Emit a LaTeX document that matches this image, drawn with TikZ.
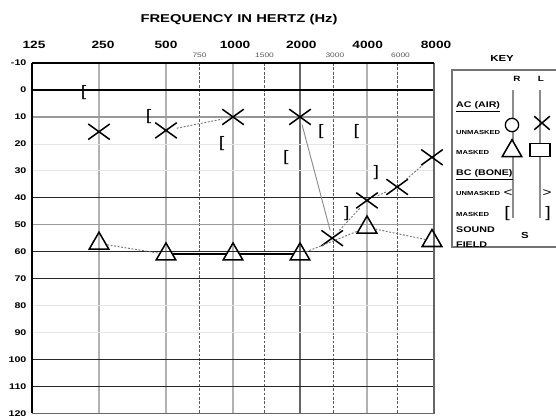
\documentclass[tikz,border=0pt]{standalone}
\usepackage{fontspec}
\setmainfont{Liberation Sans}[FakeStretch=1.3]
\usetikzlibrary{shapes.misc,shapes.geometric}

\tikzset{
  inner sep=0pt,
  freq label/.style={font=\bfseries\fontsize{9}{10}\selectfont},
  half label/.style={font=\fontsize{5.5}{6}\selectfont,text=black!65},
  db label/.style={anchor=east,font=\bfseries\fontsize{7}{8}\selectfont},
  octave line/.style={black!30,line width=1.3pt},
  half line/.style={black!65,line width=0.8pt,dash pattern=on 2.5pt off 1.2pt},
  major level/.style={black!85,line width=0.9pt},
  minor level/.style={black!40,line width=1pt},
  faint level/.style={black!10,line width=0.6pt},
  air left/.style={cross out,draw,line width=1.3pt,minimum width=0.6cm,minimum height=0.42cm},
  air right masked/.style={regular polygon,regular polygon sides=3,draw,line width=1.3pt,minimum size=0.68cm},
  bone mark/.style={font=\fontsize{13}{13}\selectfont},
  dotted trace/.style={black!55,line width=0.8pt,dash pattern=on 1.6pt off 1.4pt},
  solid trace/.style={black!45,line width=0.8pt},
  heavy trace/.style={black,line width=2pt},
  key head/.style={anchor=west,font=\bfseries\fontsize{7}{8}\selectfont},
  key text/.style={anchor=west,font=\bfseries\fontsize{5}{6}\selectfont}
}

\begin{document}
\begin{tikzpicture}[x=0.03cm,y=-0.03cm]
  \useasboundingbox (0,0) rectangle (556,415);

  %% audiogram: x in octaves above 125 Hz, y in dB HL
  \begin{scope}[shift={(32,90)},x=2.01cm,y=-0.0808cm]
    \node (title) at (3.09,-26) {\bfseries\fontsize{9.7}{11}\selectfont FREQUENCY IN HERTZ (Hz)};
    \foreach \f/\hz in {0.03/125,1.06/250,2/500,3.03/1000,4.02/2000,5.01/4000,6.03/8000}
      \node[freq label] (hz\hz) at (\f,-16.8) {\hz};
    \foreach \f/\hz in {2.5/750,3.47/1500,4.52/3000,5.5/6000}
      \node[half label] (hz\hz) at (\f,-13) {\hz};
    \foreach \l [count=\n] in {-10,0,10,...,120}
      \node[db label] (db\n) at (-0.08,\l) {\l};

    % grid
    \foreach \f in {1,2,3,5}
      \draw[octave line] (\f,-10) -- (\f,120);
    \draw[black!60,line width=1pt] (4,-10) -- (4,120);
    \foreach \f in {2.5,3.47,4.5,5.45}
      \draw[half line] (\f,-10) -- (\f,120);
    \foreach \l in {20,30,80,90}
      \draw[faint level] (0,\l) -- (6,\l);
    \foreach \l in {10,50}
      \draw[minor level] (0,\l) -- (6,\l);
    \foreach \l in {40,60,100,110}
      \draw[major level] (0,\l) -- (6,\l);
    \draw[black!85,line width=1.2pt] (0,70) -- (6,70);
    \draw[black,line width=1.5pt] (0,0) -- (6,0);
    \draw[black!60,line width=1.1pt] (0,120) -- (6,120) -- (6,-10);
    \draw[black,line width=1pt] (0,-10) -- (6,-10);
    \draw[black,line width=1.5pt] (0,-10) -- (0,120);

    % left ear, air conduction
    \foreach \f/\d/\hz in {1/15.5/250,2/15/500,3/10/1000,4/10/2000,4.48/55/3000,5/41/4000,5.45/36/6000,5.97/25/8000}
      \node[air left] (L\hz) at (\f,\d) {};
    % right ear, air conduction masked
    \foreach \f/\d/\hz in {1/57/250,2/61/500,3/61/1000,4/61/2000,5/51/4000,5.97/56/8000}
      \node[air right masked] (R\hz) at (\f,\d) {};
    % bone conduction masked
    \foreach \f/\d [count=\n] in {0.77/1,1.74/10,2.83/20,3.79/25,4.31/15.5,4.84/15.5}
      \node[bone mark] (rb\n) at (\f,\d) {[};
    \foreach \f/\d [count=\n] in {5.14/30.5,4.7/45.7}
      \node[bone mark] (lb\n) at (\f,\d) {]};

    \draw[dotted trace] (L500) -- (L1000);
    \draw[solid trace] (L1000) -- (L2000) -- (L3000);
    \draw[dotted trace] (L3000) -- (L4000) -- (L6000) -- (L8000);
    \draw[dotted trace] (R250) -- (R500);
    \draw[heavy trace] (R500) -- (R1000);
    \draw[heavy trace] (R1000) -- (R2000);
    \draw[dotted trace] (R2000) -- (R4000) -- (R8000);
  \end{scope}

  %% key
  \draw[black!55,line width=1pt] (452,70) rectangle (575,247);
  \node (key) at (502,58) {\bfseries\fontsize{7.5}{8}\selectfont KEY};
  \node (keyR) at (517,79) {\bfseries\fontsize{6.5}{7}\selectfont R};
  \node (keyL) at (541,79) {\bfseries\fontsize{6.5}{7}\selectfont L};
  \draw[black!45,line width=1.2pt] (513,90) -- (513,218);
  \draw[black!45,line width=1.2pt] (540,90) -- (540,218);

  \node[key head] (ac) at (456,107) {\underline{AC (AIR)}};
  \node[key text] (acun) at (456,132) {UNMASKED};
  \node[key text] (acma) at (456,152) {MASKED};
  \node[key head] (bc) at (456,175) {\underline{BC (BONE)}};
  \node[key text] (bcun) at (456,193) {UNMASKED};
  \node[key text] (bcma) at (456,214) {MASKED};
  \node[key head] (sound) at (456,230) {SOUND};
  \node[key head] (field) at (456,245) {FIELD};

  \node[draw,circle,line width=1.1pt,minimum size=0.4cm,fill=white] (keyRac) at (512,125) {};
  \node[air left,minimum width=0.42cm,minimum height=0.36cm] (keyLac) at (542,123) {};
  \node[air right masked,fill=white] (keyRma) at (512,151) {};
  \node[draw,line width=1.1pt,minimum width=0.6cm,minimum height=0.4cm,fill=white] (keyLma) at (540,150) {};
  \node[font=\fontsize{10}{10}\selectfont] (keyRbc) at (508,193) {<};
  \node[font=\fontsize{10}{10}\selectfont] (keyLbc) at (547,193) {>};
  \node[bone mark] (keyRbm) at (507,214) {[};
  \node[bone mark] (keyLbm) at (548,214) {]};
  \node (keyS) at (525,235) {\bfseries\fontsize{7.5}{8}\selectfont S};
\end{tikzpicture}
\end{document}
